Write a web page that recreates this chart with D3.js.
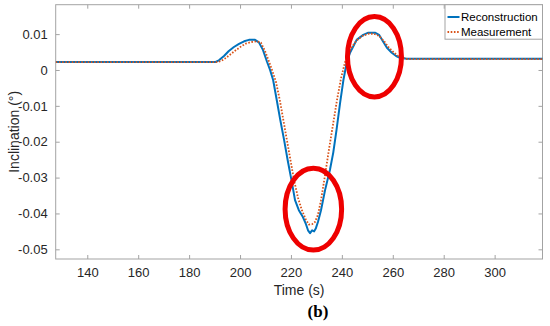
<!DOCTYPE html>
<html>
<head>
<meta charset="utf-8">
<script src="https://cdn.jsdelivr.net/npm/d3@7/dist/d3.min.js"></script>
<style>
  html, body { margin: 0; padding: 0; background: #fff; }
  svg { display: block; }
</style>
</head>
<body>
<div id="chart"></div>
<script>
// ---- data ----
const reconTime = [127.6, 190.2, 191.7, 193.7, 195.6, 197.6, 199.6, 201.6, 203.5, 205.9, 207.4, 209.0, 210.6, 211.8, 213.0, 214.4, 215.8, 217.3, 218.7, 220.2, 221.6, 223.1, 224.7, 225.9, 226.7, 227.5, 228.3, 229.1, 229.8, 230.6, 231.8, 233.4, 235.3, 236.6, 237.9, 239.3, 240.6, 241.9, 243.2, 245.8, 248.4, 250.4, 253.0, 254.6, 256.3, 257.7, 259.6, 261.3, 262.8, 265.5, 319];
const reconValue = [0.0022, 0.0022, 0.0027, 0.0039, 0.0053, 0.0064, 0.0073, 0.0080, 0.0084, 0.0084, 0.0077, 0.0056, 0.0023, 0.0000, -0.0028, -0.0083, -0.0139, -0.0195, -0.0251, -0.0307, -0.0363, -0.0391, -0.0410, -0.0430, -0.0447, -0.0455, -0.0447, -0.0450, -0.0441, -0.0424, -0.0391, -0.0335, -0.0279, -0.0231, -0.0167, -0.0092, -0.0028, 0.0020, 0.0048, 0.0084, 0.0098, 0.0104, 0.0104, 0.0098, 0.0078, 0.0062, 0.0048, 0.0039, 0.0034, 0.0031, 0.0031];

const measTime = [127.6, 190.6, 192.6, 194.5, 196.5, 198.5, 200.5, 202.4, 204.4, 206.7, 208.2, 209.8, 211.4, 212.8, 214.1, 215.6, 217.0, 218.4, 219.8, 221.2, 222.8, 224.3, 225.9, 227.1, 228.3, 229.4, 230.6, 231.8, 233.4, 234.9, 236.5, 238.1, 239.7, 241.3, 243.2, 245.6, 247.9, 250.3, 252.6, 254.6, 256.6, 258.5, 260.5, 262.1, 263.6, 266.0, 319];
const measValue = [0.0022, 0.0022, 0.0025, 0.0034, 0.0045, 0.0056, 0.0066, 0.0074, 0.0078, 0.0080, 0.0076, 0.0053, 0.0023, -0.0005, -0.0033, -0.0083, -0.0139, -0.0195, -0.0251, -0.0307, -0.0357, -0.0391, -0.0418, -0.0431, -0.0430, -0.0424, -0.0404, -0.0363, -0.0293, -0.0223, -0.0153, -0.0083, -0.0022, 0.0023, 0.0056, 0.0081, 0.0094, 0.0101, 0.0101, 0.0095, 0.0080, 0.0062, 0.0048, 0.0039, 0.0034, 0.0030, 0.0030];

const xTicks = [140, 160, 180, 200, 220, 240, 260, 280, 300];
const yTicks = [0.01, 0, -0.01, -0.02, -0.03, -0.04, -0.05];
const yTickLabels = ["0.01", "0", "-0.01", "-0.02", "-0.03", "-0.04", "-0.05"];
const seriesNames = ["Reconstruction", "Measurement"];
// annotation ellipses
const ellipseCenterTime = [252.8, 228.8];
const ellipseCenterValue = [0.0037, -0.0388];
const ellipseHalfTime = [10.6, 11.1];
const ellipseHalfValue = [0.0112, 0.0114];

// ---- layout ----
const W = 550, H = 326;
const mLeft = 55.7, mRight = 542.5, mTop = 4.7, mBottom = 259;
const blue = "#0072BD", orange = "#D95319", axisCol = "#a3a3a3", textCol = "#262626";

const svg = d3.select("#chart").append("svg").attr("width", W).attr("height", H);

const x = d3.scaleLinear().domain([127.6, 318.8]).range([mLeft, mRight]);
const y = d3.scaleLinear().domain([-0.0527, 0.0182]).range([mBottom, mTop]);

const clipId = "plotclip";
svg.append("defs").append("clipPath").attr("id", clipId)
  .append("rect").attr("x", mLeft).attr("y", mTop).attr("width", mRight - mLeft).attr("height", mBottom - mTop);

// axes
const font = "Arial, 'Liberation Sans', sans-serif";
const xAxis = d3.axisBottom(x).tickValues(xTicks).tickSize(-4).tickPadding(9).tickFormat(d3.format("d"));
const yAxis = d3.axisLeft(y).tickValues(yTicks).tickSize(-4).tickPadding(8).tickFormat((d, i) => yTickLabels[i]);
const xAxisTop = d3.axisTop(x).tickValues(xTicks).tickSize(-4).tickFormat("");
const yAxisRight = d3.axisRight(y).tickValues(yTicks).tickSize(-4).tickFormat("");

function styleAxis(g) {
  g.select(".domain").remove();
  g.selectAll(".tick line").attr("stroke", axisCol).attr("stroke-width", 1);
  g.selectAll(".tick text").attr("fill", textCol).style("font-family", font).style("font-size", "13px");
}
svg.append("g").attr("transform", `translate(0,${mBottom})`).call(xAxis).call(styleAxis);
svg.append("g").attr("transform", `translate(${mLeft},0)`).call(yAxis).call(styleAxis);
svg.append("g").attr("transform", `translate(0,${mTop})`).call(xAxisTop).call(styleAxis);
svg.append("g").attr("transform", `translate(${mRight},0)`).call(yAxisRight).call(styleAxis);

// box
svg.append("rect").attr("x", mLeft).attr("y", mTop).attr("width", mRight - mLeft).attr("height", mBottom - mTop)
  .attr("fill", "none").attr("stroke", axisCol).attr("stroke-width", 1);

// lines
const plot = svg.append("g").attr("clip-path", `url(#${clipId})`);
const line = d3.line().x(d => x(d[0])).y(d => y(d[1]));
const recon = reconTime.map((t, i) => [t, reconValue[i]]);
const meas = measTime.map((t, i) => [t, measValue[i]]);
plot.append("path").datum(recon).attr("d", line).attr("fill", "none")
  .attr("stroke", blue).attr("stroke-width", 2).attr("stroke-linejoin", "round");
plot.append("path").datum(meas).attr("d", line).attr("fill", "none")
  .attr("stroke", orange).attr("stroke-width", 1.8).attr("stroke-dasharray", "1.6,1.6");

// ellipses
ellipseCenterTime.forEach((ct, i) => {
  svg.append("ellipse")
    .attr("cx", x(ct)).attr("cy", y(ellipseCenterValue[i]))
    .attr("rx", x(ct + ellipseHalfTime[i]) - x(ct))
    .attr("ry", y(0) - y(ellipseHalfValue[i]))
    .attr("fill", "none").attr("stroke", "#ee0000").attr("stroke-width", 5);
});

// legend
const lg = svg.append("g");
lg.append("rect").attr("x", 445).attr("y", mTop).attr("width", mRight - 445).attr("height", 34.5)
  .attr("fill", "#fff").attr("stroke", axisCol).attr("stroke-width", 1);
const legendColors = [blue, orange];
seriesNames.forEach((name, i) => {
  const yy = 17 + i * 15;
  const l = lg.append("line").attr("x1", 447.5).attr("x2", 459.5).attr("y1", yy).attr("y2", yy)
    .attr("stroke", legendColors[i]).attr("stroke-width", i === 0 ? 2 : 1.8);
  if (i === 1) l.attr("stroke-dasharray", "1.6,1.6");
  lg.append("text").attr("x", 461).attr("y", yy + 4).text(name)
    .attr("fill", "#000").style("font-family", font).style("font-size", "11.5px");
});

// axis labels
svg.append("text").attr("x", (mLeft + mRight) / 2).attr("y", 294.5).attr("text-anchor", "middle")
  .attr("fill", textCol).style("font-family", font).style("font-size", "14px").text("Time (s)");
svg.append("text").attr("transform", `translate(19,${(mTop + mBottom) / 2}) rotate(-90)`)
  .attr("text-anchor", "middle").attr("fill", textCol).style("font-family", font).style("font-size", "14px")
  .text("Inclination (°)");
svg.append("text").attr("x", 318).attr("y", 317).attr("text-anchor", "middle")
  .attr("fill", "#000").style("font-family", "'Liberation Serif', 'DejaVu Serif', serif")
  .style("font-size", "17px").style("font-weight", "bold").text("(b)");
</script>
</body>
</html>
